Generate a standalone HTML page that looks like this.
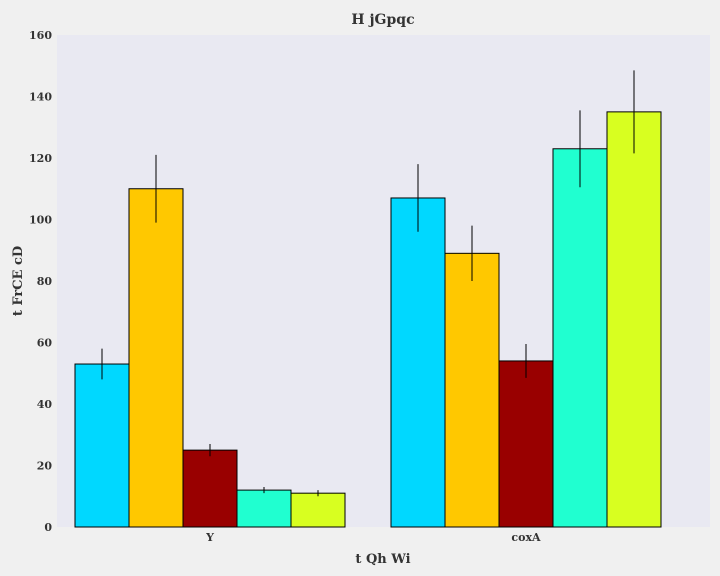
<!DOCTYPE html>
<html><head><meta charset="utf-8"><style>
body{margin:0;background:#f0f0f0;}
svg{display:block;font-family:"DejaVu Serif","Liberation Serif",serif;font-weight:bold;}
</style></head><body>
<svg id="chart" width="720" height="576">
<rect x="0" y="0" width="720" height="576" fill="#f0f0f0"/>
<rect x="57" y="35" width="653" height="492" fill="#e9e9f2"/>
<text x="383" y="24" text-anchor="middle" font-size="14" fill="#333">H jGpqc</text>
<text x="383" y="563" text-anchor="middle" font-size="13" fill="#333">t Qh Wi</text>
<text transform="translate(22,281) rotate(-90)" text-anchor="middle" font-size="13" fill="#333">t FrCE cD</text>
<g id="yticks"></g><g id="bars"></g><g id="xticks"></g>
</svg>
<script>
const categories = ["Y", "coxA"];
const seriesColors = ["#00d8ff", "#ffc800", "#990000", "#20ffd0", "#d8ff20"];
const s0 = [53, 107];
const s1 = [110, 89];
const s2 = [25, 54];
const s3 = [12, 123];
const s4 = [11, 135];
const e0 = [5, 11];
const e1 = [11, 9];
const e2 = [2, 5.5];
const e3 = [1, 12.5];
const e4 = [1, 13.5];
const yTicks = [0, 20, 40, 60, 80, 100, 120, 140, 160];
const series = [s0, s1, s2, s3, s4];
const errs = [e0, e1, e2, e3, e4];
const NS = "http://www.w3.org/2000/svg";
const y = v => 527 - v * (492 / 160);
const groupStart = [75, 391];
const bw = 54;
const yt = document.getElementById('yticks');
yTicks.forEach(t => {
  const tx = document.createElementNS(NS, 'text');
  
  
  tx.setAttribute('x', 52); tx.setAttribute('y', y(t) + 4);
  tx.setAttribute('text-anchor', 'end'); tx.setAttribute('font-size', '11'); tx.setAttribute('fill', '#333');
  tx.textContent = t; yt.appendChild(tx);
});
const bg = document.getElementById('bars');
categories.forEach((c, ci) => {
  series.forEach((s, si) => {
    const x0 = groupStart[ci] + si * bw;
    const r = document.createElementNS(NS, 'rect');
    
    
    r.setAttribute('x', x0); r.setAttribute('y', y(s[ci]));
    r.setAttribute('width', bw); r.setAttribute('height', 527 - y(s[ci]));
    r.setAttribute('fill', seriesColors[si]); r.setAttribute('stroke', '#000'); r.setAttribute('stroke-width', '1');
    bg.appendChild(r);
    const l = document.createElementNS(NS, 'line');
    
    
    l.setAttribute('x1', x0 + bw / 2); l.setAttribute('x2', x0 + bw / 2);
    l.setAttribute('y1', y(s[ci] + errs[si][ci])); l.setAttribute('y2', y(s[ci] - errs[si][ci]));
    l.setAttribute('stroke', '#000'); l.setAttribute('stroke-width', '1');
    bg.appendChild(l);
  });
  const tx = document.createElementNS(NS, 'text');
  
  
  tx.setAttribute('x', groupStart[ci] + bw * 2.5); tx.setAttribute('y', 541);
  tx.setAttribute('text-anchor', 'middle'); tx.setAttribute('font-size', '11'); tx.setAttribute('fill', '#333');
  tx.textContent = c; document.getElementById('xticks').appendChild(tx);
});
</script>
</body></html>
